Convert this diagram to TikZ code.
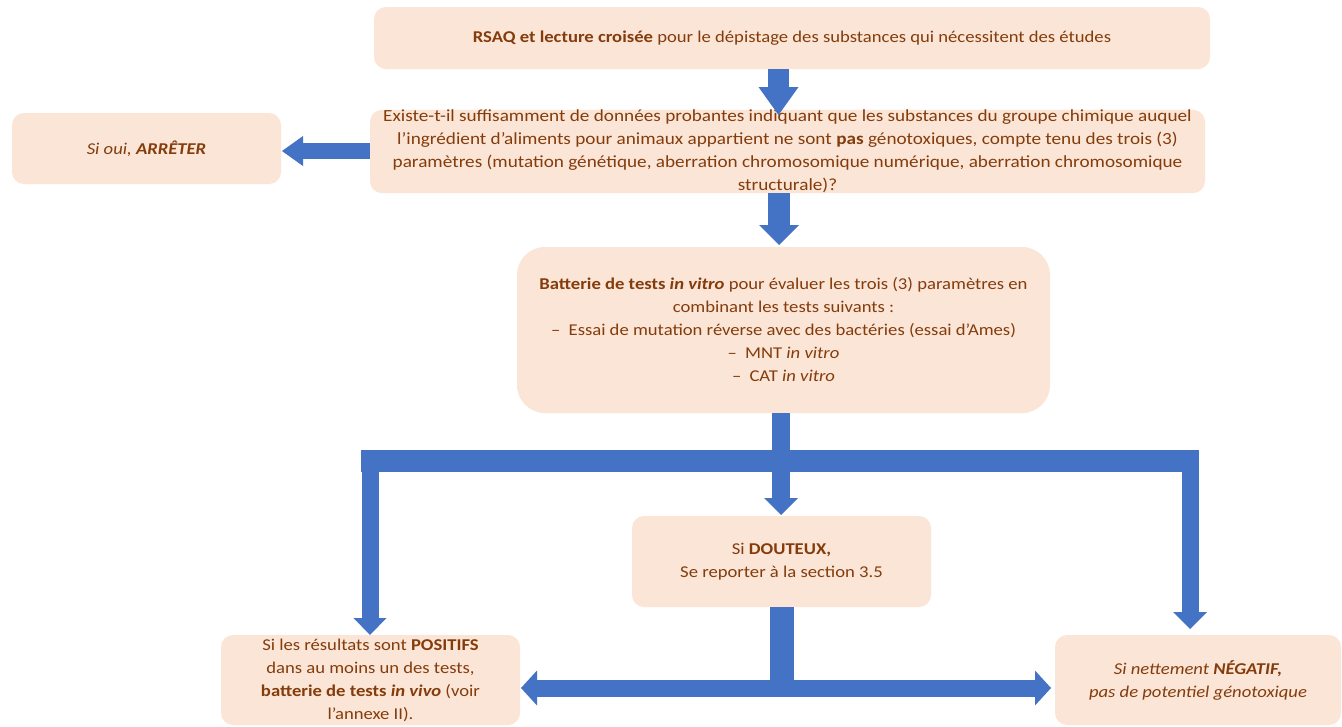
\documentclass[tikz,border=0pt]{standalone}
\usepackage{fontspec}
\setmainfont{Carlito}[FakeStretch=1.13]
\usetikzlibrary{arrows.meta}
\definecolor{boxfill}{HTML}{FBE5D6}
\definecolor{txt}{HTML}{843C0C}
\definecolor{blu}{HTML}{4472C4}
\tikzset{
  box/.style={fill=boxfill, rounded corners=12pt, text=txt, align=center, inner sep=0pt,
    font=\fontsize{16.5}{23}\selectfont},
  blk/.style={draw=blu, line width=#1},
  hd/.style 2 args={-{Triangle[width=#1,length=#2,line width=0pt]}},
  dhd/.style 2 args={{Triangle[width=#1,length=#2,line width=0pt]}-{Triangle[width=#1,length=#2,line width=0pt]}},
}
\begin{document}
\begin{tikzpicture}[x=1pt,y=-1pt]
\fill[white] (0,0) rectangle (1342,726);
\useasboundingbox (0,0) rectangle (1342,726);

% boxes
\node[box, minimum width=836pt, minimum height=62pt] (top) at (792,38)
  {\textbf{RSAQ et lecture croisée} pour le dépistage des substances qui nécessitent des études};
\node[box, minimum width=835pt, minimum height=83pt, font=\fontsize{17}{23}\selectfont] (q) at (787.5,151.5)
  {Existe-t-il suffisamment de données probantes indiquant que les substances du groupe chimique auquel\\
   l’ingrédient d’aliments pour animaux appartient ne sont \textbf{pas} génotoxiques, compte tenu des trois (3)\\
   paramètres (mutation génétique, aberration chromosomique numérique, aberration chromosomique\\
   structurale)?};
\node[box, minimum width=269pt, minimum height=71pt] (stop) at (146.5,148.5)
  {\textit{Si oui, \textbf{ARRÊTER}}};
\node[box, rounded corners=28pt, minimum width=533pt, minimum height=166pt] (bat) at (783.5,330)
  {\textbf{Batterie de tests \textit{in vitro}} pour évaluer les trois (3) paramètres en\\
   combinant les tests suivants :\\
   –\enspace Essai de mutation réverse avec des bactéries (essai d’Ames)\\
   –\enspace MNT \textit{in vitro}\\
   –\enspace CAT \textit{in vitro}};
\node[box, minimum width=299pt, minimum height=91pt] (dou) at (781.5,561.5)
  {Si \textbf{DOUTEUX,}\\ Se reporter à la section 3.5};
\node[box, minimum width=299pt, minimum height=90pt] (pos) at (370.5,680)
  {Si les résultats sont \textbf{POSITIFS}\\ dans au moins un des tests,\\
   \textbf{batterie de tests \textit{in vivo}} (voir\\ l’annexe II).};
\node[box, minimum width=286pt, minimum height=90pt] (neg) at (1198,680)
  {\textit{Si nettement \textbf{NÉGATIF,}}\\ \textit{pas de potentiel génotoxique}};

% coordinates
\coordinate (t1) at (778.5,115);
\coordinate (t2) at (779,245);
\coordinate (t3) at (282,151);
\coordinate (jn) at (781,461);
\coordinate (barL) at (361,461);
\coordinate (barR) at (1198,461);
\coordinate (vL) at (370,450);
\coordinate (vR) at (1190,450);
\coordinate (tL) at (370,635);
\coordinate (tR) at (1190,629);
\coordinate (t4) at (781,515);
\coordinate (j2) at (781.5,697);
\coordinate (dL) at (521,688);
\coordinate (dR) at (1051,688);

% connectors
\draw[blk=21pt, hd={40pt}{28pt}] (top.south -| t1) -- (t1);
\draw[blk=16pt, hd={30pt}{21pt}] (q.west |- t3) -- (t3);
\draw[blk=22pt, hd={40pt}{20pt}] (q.south -| t2) -- (t2);
\draw[blk=18pt] (bat.south -| jn) -- (jn);
\draw[blk=22pt] (barL) -- (barR);
\draw[blk=18pt, hd={34pt}{17pt}] (jn) -- (t4);
\draw[blk=17pt, hd={33pt}{17pt}] (vL) -- (tL);
\draw[blk=17pt, hd={34pt}{17pt}] (vR) -- (tR);
\draw[blk=24pt] (dou.south -| j2) -- (j2);
\draw[blk=17pt, dhd={35pt}{16pt}] (dL) -- (dR);
\end{tikzpicture}
\end{document}
